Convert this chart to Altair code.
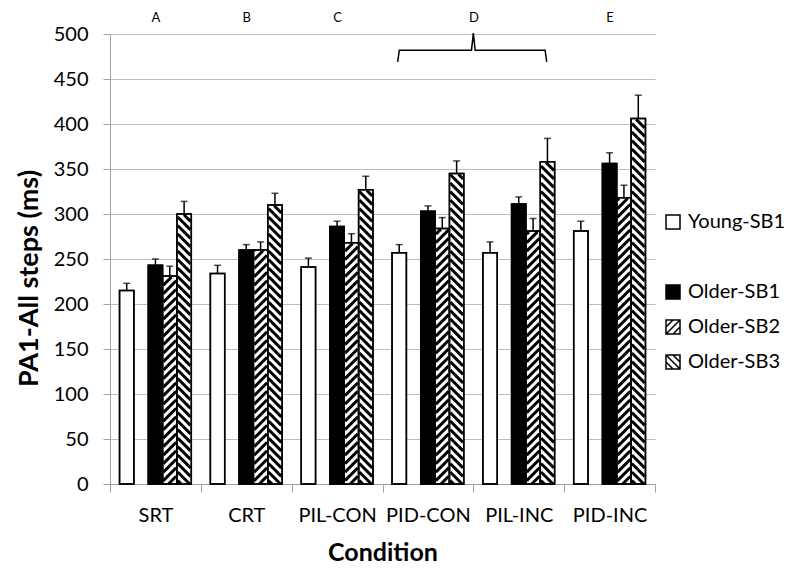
import json
import altair as alt
import pandas as pd

# ---------------- data ----------------
categories = ["SRT", "CRT", "PIL-CON", "PID-CON", "PIL-INC", "PID-INC"]
series_names = ["Young-SB1", "Older-SB1", "Older-SB2", "Older-SB3"]

young_sb1 = [215, 234, 241, 257, 257, 281]
young_sb1_err = [8, 9, 10, 9, 12, 11]
older_sb1 = [243, 260, 286, 303, 311, 356]
older_sb1_err = [7, 6, 6, 6, 8, 12]
older_sb2 = [231, 260, 268, 284, 281, 318]
older_sb2_err = [11, 9, 10, 12, 14, 14]
older_sb3 = [300, 310, 327, 345, 358, 406]
older_sb3_err = [14, 13, 15, 14, 26, 26]

y_ticks = [0, 50, 100, 150, 200, 250, 300, 350, 400, 450, 500]

letters = ["A", "B", "C", "D", "E"]
letter_groups = [["SRT"], ["CRT"], ["PIL-CON"], ["PID-CON", "PIL-INC"], ["PID-INC"]]
bracket_group = ["PID-CON", "PIL-INC"]

legend_items = ["Young-SB1", " ", "Older-SB1", "Older-SB2", "Older-SB3"]

# ---------------- layout / style ----------------
W, H = 545, 450
YMAX = 500
NCAT = len(categories)
kx = W / NCAT          # px per category unit
ky = H / YMAX          # px per ms
OUTER = 0.105
SLOT = 0.158
slot_index = {"Young-SB1": 0, "Older-SB1": 2, "Older-SB2": 3, "Older-SB3": 4}
hatch_dir = {"Older-SB2": 1, "Older-SB3": -1}
HATCH_P = 8.5
HATCH_W = 3
GRID = "#bdbdbd"
AXIS = "#a0a0a0"
FONT = "Lato"

values = {
    "Young-SB1": (young_sb1, young_sb1_err),
    "Older-SB1": (older_sb1, older_sb1_err),
    "Older-SB2": (older_sb2, older_sb2_err),
    "Older-SB3": (older_sb3, older_sb3_err),
}

rows = []
for s in series_names:
    vals, errs = values[s]
    for ci, c in enumerate(categories):
        x0 = ci + OUTER + slot_index[s] * SLOT
        rows.append(dict(category=c, series=s, value=vals[ci], err=errs[ci],
                         x0=x0, x1=x0 + SLOT, xc=x0 + SLOT / 2,
                         top=vals[ci] + errs[ci], base=0))
df = pd.DataFrame(rows)

# hatch segments, clipped to each hatched bar
hrows = []
e = 0.75
wpx = SLOT * kx
for r in rows:
    if r["series"] not in hatch_dir:
        continue
    hv = r["value"] * ky - e
    d = hatch_dir[r["series"]]
    if d == 1:
        c = -wpx
        while c < hv:
            ulo, uhi = max(e, -c), min(wpx - e, hv - c)
            if uhi > ulo:
                hrows.append(dict(hx0=r["x0"] + ulo / kx, hx1=r["x0"] + uhi / kx,
                                  hy0=(ulo + c) / ky, hy1=(uhi + c) / ky))
            c += HATCH_P
    else:
        c = HATCH_P / 2
        while c < hv + wpx:
            ulo, uhi = max(e, c - hv), min(wpx - e, c)
            if uhi > ulo:
                hrows.append(dict(hx0=r["x0"] + ulo / kx, hx1=r["x0"] + uhi / kx,
                                  hy0=(c - ulo) / ky, hy1=(c - uhi) / ky))
            c += HATCH_P
hatch_df = pd.DataFrame(hrows)

# letter positions: centre of their category group
letter_x = []
for g in letter_groups:
    idx = [categories.index(c) + 0.5 for c in g]
    letter_x.append(sum(idx) / len(idx))

# bracket over group D
g0 = categories.index(bracket_group[0])
g1 = categories.index(bracket_group[-1]) + 1
gm = (g0 + g1) / 2
bx = [g0 + 0.167, g0 + 0.185, gm - 0.02, gm, gm + 0.02, g1 - 0.21, g1 - 0.192]
by = [469, 482, 482, 501, 482, 482, 469]
bracket_df = pd.DataFrame(dict(bx=bx, by=by, i=list(range(len(bx)))))

cat_centers = [i + 0.5 for i in range(NCAT)]
cat_expr = f"{json.dumps(categories)}[floor(datum.value)]"
letter_expr = f"{json.dumps(letters)}[indexof({json.dumps(letter_x)}, datum.value)]"

xs = alt.Scale(domain=[0, NCAT], nice=False, zero=False)
ys = alt.Scale(domain=[0, YMAX], nice=False)

y_axis = alt.Axis(
    values=y_ticks, grid=True, gridColor=GRID, domainColor=AXIS, tickColor=AXIS,
    tickSize=7, labelPadding=15, labelFontSize=20, title="PA1-All steps (ms)",
    titleFontSize=27, titleFontWeight="bold", titlePadding=10, titleY=244,
    orient="left")

sq = "M-1,-1H1V1H-1Z"
shape_range = [sq, "M0,0", sq,
               sq + "M-1,0L0,-1M-1,1L1,-1M0,1L1,0",
               sq + "M-1,0L0,1M-1,-1L1,1M0,-1L1,0"]
fill_range = ["white", "transparent", "black", "white", "white"]
stroke_range = ["black", "transparent", "black", "black", "black"]

# ---------------- layers ----------------
fill_layer = alt.Chart(df).mark_bar(stroke="black", strokeWidth=1.5).encode(
    x=alt.X("x0:Q", scale=xs, axis=alt.Axis(
        orient="bottom", values=list(range(NCAT + 1)), labels=False, ticks=True,
        tickSize=8, tickColor=AXIS, domainColor=AXIS, grid=False, title=None)),
    x2="x1:Q",
    y=alt.Y("value:Q", scale=ys, axis=y_axis),
    y2="base:Q",
    fill=alt.condition(alt.datum.series == "Older-SB1", alt.value("black"), alt.value("white")),
)

hatch_layer = alt.Chart(hatch_df).mark_rule(color="black", strokeWidth=HATCH_W).encode(
    x=alt.X("hx0:Q", scale=xs, axis=None), x2="hx1:Q",
    y=alt.Y("hy0:Q", scale=ys, axis=y_axis), y2="hy1:Q",
)

outline_layer = alt.Chart(df).mark_bar(fillOpacity=0, stroke="black", strokeWidth=1.5).encode(
    x=alt.X("x0:Q", scale=xs, axis=alt.Axis(
        orient="bottom", values=cat_centers, labelExpr=cat_expr, ticks=False, tickSize=0,
        domain=False, grid=False, labelFontSize=20, labelPadding=21,
        title="Condition", titleFontSize=25, titleFontWeight="bold", titlePadding=15)),
    x2="x1:Q",
    y=alt.Y("value:Q", scale=ys, axis=y_axis),
    y2="base:Q",
)

err_layer = alt.Chart(df).mark_rule(color="black", strokeWidth=1.5).encode(
    x=alt.X("xc:Q", scale=xs, axis=alt.Axis(
        orient="top", values=letter_x, labelExpr=letter_expr, ticks=False, tickSize=0,
        domain=False, grid=False, labelFontSize=13, labelPadding=13,
        labelBaseline="alphabetic", title=None)),
    y=alt.Y("value:Q", scale=ys, axis=y_axis),
    y2="top:Q",
)

cap_layer = alt.Chart(df).mark_tick(orient="horizontal", color="black", size=7, thickness=1.5).encode(
    x=alt.X("xc:Q", scale=xs, axis=None),
    y=alt.Y("top:Q", scale=ys, axis=y_axis),
)

bracket_layer = alt.Chart(bracket_df).mark_line(color="black", strokeWidth=1.5).encode(
    x=alt.X("bx:Q", scale=xs, axis=None),
    y=alt.Y("by:Q", scale=ys, axis=y_axis),
    order="i:Q",
)

leg = alt.Legend(title=None, orient="none", legendX=553, legendY=178)
legend_layer = alt.Chart(df).transform_filter("false").mark_point(
    filled=True, strokeWidth=1.5, size=196, opacity=1
).encode(
    x=alt.X("x0:Q", scale=xs, axis=None),
    y=alt.Y("value:Q", scale=ys, axis=y_axis),
    fill=alt.Fill("series:N", scale=alt.Scale(domain=legend_items, range=fill_range), legend=leg),
    stroke=alt.Stroke("series:N", scale=alt.Scale(domain=legend_items, range=stroke_range), legend=leg),
    shape=alt.Shape("series:N", scale=alt.Scale(domain=legend_items, range=shape_range), legend=leg),
)

chart = alt.layer(
    fill_layer, hatch_layer, outline_layer, err_layer, cap_layer, bracket_layer, legend_layer
).resolve_axis(x="independent", y="shared").properties(
    width=W, height=H,
    autosize=alt.AutoSizeParams(type="none"),
    padding={"left": 102, "top": 26, "right": 137, "bottom": 90},
).configure_view(strokeWidth=0).configure_axis(
    labelFont=FONT, titleFont=FONT, labelColor="black", titleColor="black",
).configure_legend(
    labelFont=FONT, labelFontSize=20, labelColor="black", symbolSize=196,
    symbolStrokeWidth=1.5, rowPadding=15, labelOffset=5, padding=0,
)

chart.save("out.html", embed_options={"renderer": "svg", "actions": False})
